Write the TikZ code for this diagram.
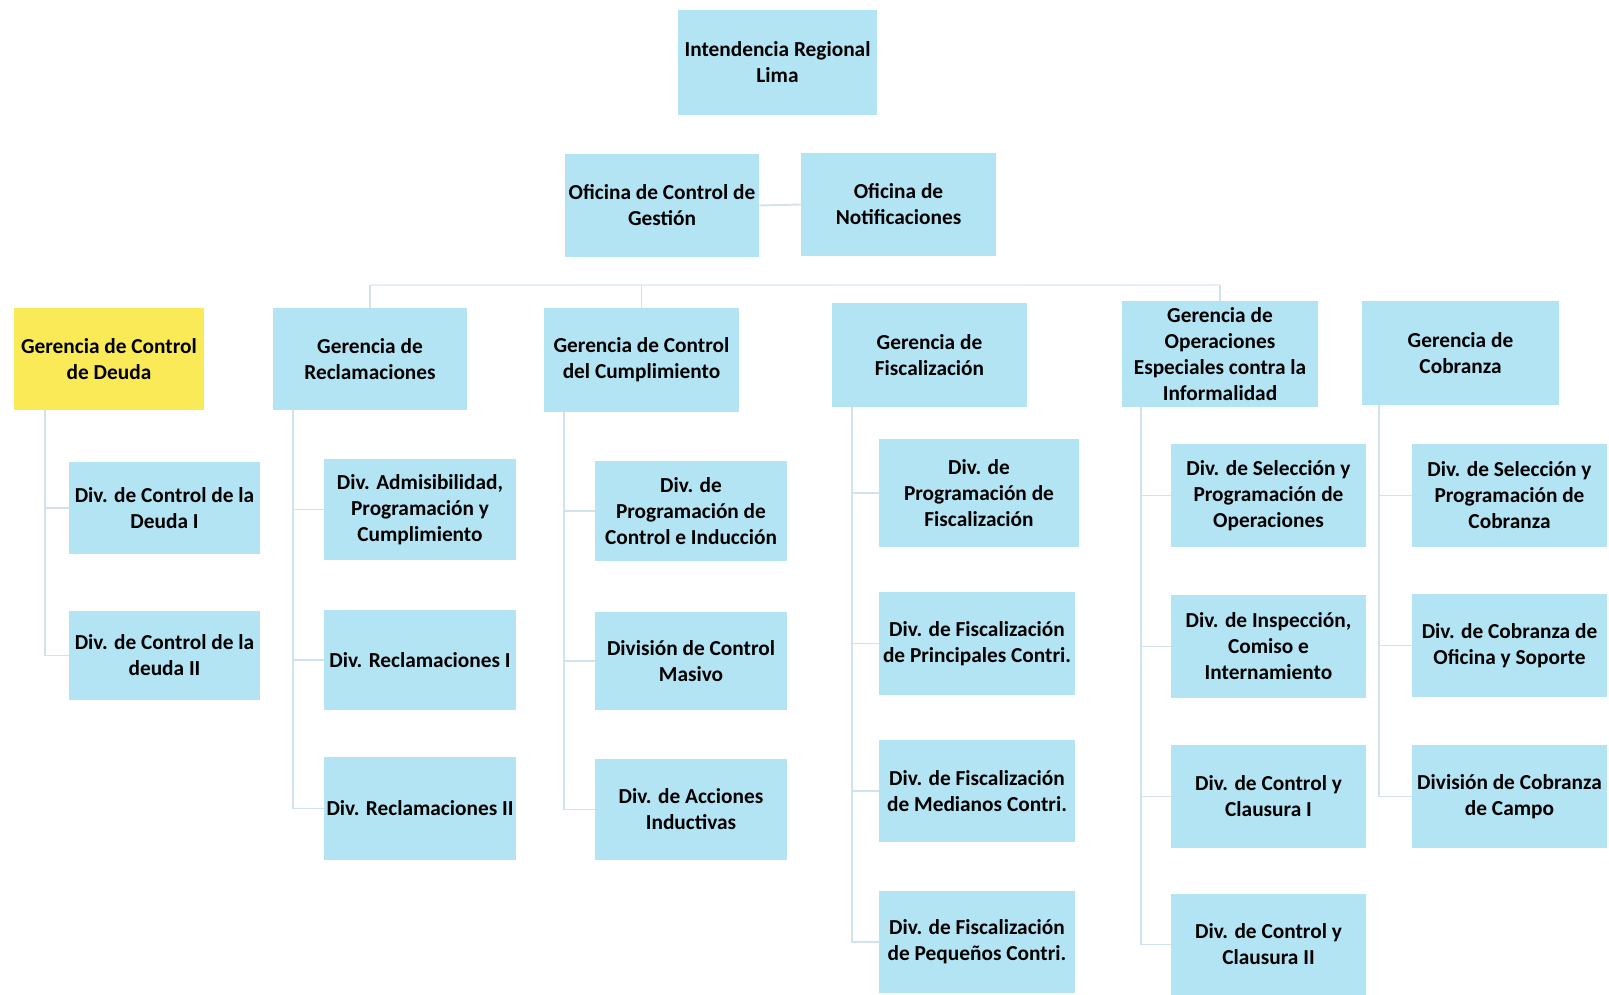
\documentclass[tikz,border=0pt]{standalone}
\usepackage{fontspec}
\setmainfont{Carlito}
\usetikzlibrary{calc}
\definecolor{boxblue}{RGB}{178,228,243}
\definecolor{boxyellow}{RGB}{250,234,88}
\definecolor{linecol}{RGB}{208,226,236}
\definecolor{palecol}{RGB}{230,239,244}
\tikzset{
  box/.style={fill=boxblue, draw=none, inner sep=0pt, align=center,
    font=\bfseries\fontsize{16}{19.5}\selectfont, text=black},
  boss/.style={fill=boxyellow},
  conn/.style={draw=linecol, line width=1.4pt},
  faint/.style={draw=palecol, line width=1.4pt},
}
% \bx[style]{name}{x1}{y1}{x2}{y2}{text}: box from its corners in pixel units
\newcommand\bx[7][]{%
  \pgfmathsetmacro\bw{(#5-#3)*0.75}%
  \pgfmathsetmacro\bh{(#6-#4)*0.75}%
  \node[box,#1,minimum width=\bw pt,minimum height=\bh pt] (#2)
    at ({(#3+#5)/2},{(#4+#6)/2}) {#7};}
\begin{document}
\begin{tikzpicture}[x=0.75pt,y=-0.75pt]
\fill[white] (0,0) rectangle (1609,995);
\useasboundingbox (0,0) rectangle (1609,995);

% top level and staff offices
\bx{ir}{678}{10}{877}{115}{Intendencia Regional\\Lima}
\bx{ocg}{565}{154}{759}{257}{Oficina de Control de\\Gestión}
\bx{onot}{801}{153}{996}{256}{Oficina de\\Notificaciones}

% gerencias
\bx[boss]{gcd}{14}{308}{204}{410}{Gerencia de Control\\de Deuda}
\bx{grec}{273}{308}{467}{410}{Gerencia de\\Reclamaciones}
\bx{gcum}{544}{308}{739}{412}{Gerencia de Control\\del Cumplimiento}
\bx{gfis}{832}{303}{1027}{407}{Gerencia de\\Fiscalización}
\bx{gope}{1122}{301}{1318}{407}{Gerencia de\\Operaciones\\Especiales contra la\\Informalidad}
\bx{gcob}{1362}{301}{1559}{405}{Gerencia de\\Cobranza}

% divisiones: control de deuda
\bx{cd1}{69}{462}{260}{554}{Div. de Control de la\\Deuda I}
\bx{cd2}{69}{611}{260}{700}{Div. de Control de la\\deuda II}
% reclamaciones
\bx{re1}{324}{459}{516}{560}{Div. Admisibilidad,\\Programación y\\Cumplimiento}
\bx{re2}{324}{610}{516}{710}{Div. Reclamaciones I}
\bx{re3}{324}{757}{516}{860}{Div. Reclamaciones II}
% control del cumplimiento
\bx{cu1}{595}{461}{787}{561}{Div. de\\Programación de\\Control e Inducción}
\bx{cu2}{595}{612}{787}{710}{División de Control\\Masivo}
\bx{cu3}{595}{759}{787}{860}{Div. de Acciones\\Inductivas}
% fiscalizacion
\bx{fi1}{879}{439}{1079}{547}{Div. de\\Programación de\\Fiscalización}
\bx{fi2}{879}{592}{1075}{695}{Div. de Fiscalización\\de Principales Contri.}
\bx{fi3}{879}{740}{1075}{842}{Div. de Fiscalización\\de Medianos Contri.}
\bx{fi4}{879}{891}{1075}{993}{Div. de Fiscalización\\de Pequeños Contri.}
% operaciones especiales
\bx{op1}{1171}{444}{1366}{547}{Div. de Selección y\\Programación de\\Operaciones}
\bx{op2}{1171}{595}{1366}{698}{Div. de Inspección,\\Comiso e\\Internamiento}
\bx{op3}{1171}{745}{1366}{848}{Div. de Control y\\Clausura I}
\bx{op4}{1171}{894}{1366}{995}{Div. de Control y\\Clausura II}
% cobranza
\bx{co1}{1412}{444}{1607}{547}{Div. de Selección y\\Programación de\\Cobranza}
\bx{co2}{1412}{594}{1607}{697}{Div. de Cobranza de\\Oficina y Soporte}
\bx{co3}{1412}{745}{1607}{848}{División de Cobranza\\de Campo}

% connectors
\draw[conn] (ocg.east) -- (onot.west);
\coordinate (bus) at (0,285);
\draw[faint] (grec.north |- bus) -- (gope.north |- bus);
\foreach \g in {grec,gcum,gope}
  \draw[conn] (\g.north |- bus) -- (\g.north);

\coordinate (s1) at ($(gcd.south west)+(31,0)$);
\foreach \d in {cd1,cd2} \draw[conn] (s1) |- (\d.west);
\coordinate (s2) at ($(grec.south west)+(20,0)$);
\foreach \d in {re1,re2,re3} \draw[conn] (s2) |- (\d.west);
\coordinate (s3) at ($(gcum.south west)+(20,0)$);
\foreach \d in {cu1,cu2,cu3} \draw[conn] (s3) |- (\d.west);
\coordinate (s4) at ($(gfis.south west)+(20,0)$);
\foreach \d in {fi1,fi2,fi3,fi4} \draw[conn] (s4) |- (\d.west);
\coordinate (s5) at ($(gope.south west)+(19,0)$);
\foreach \d in {op1,op2,op3,op4} \draw[conn] (s5) |- (\d.west);
\coordinate (s6) at ($(gcob.south west)+(17,0)$);
\foreach \d in {co1,co2,co3} \draw[conn] (s6) |- (\d.west);
\end{tikzpicture}
\end{document}
